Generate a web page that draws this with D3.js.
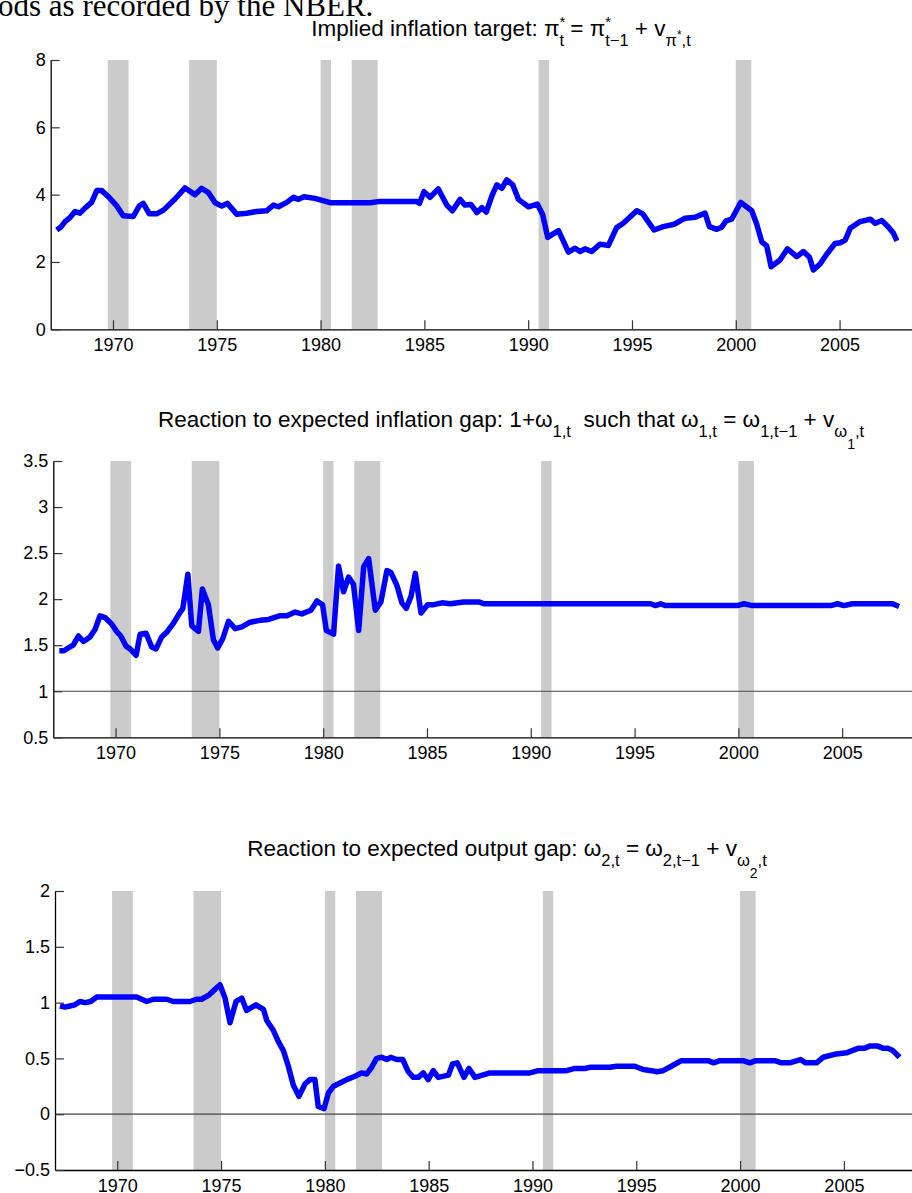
<!DOCTYPE html>
<html>
<head>
<meta charset="utf-8">
<script src="https://cdn.jsdelivr.net/npm/d3@7"></script>
<style>
  body { margin: 0; background: #fff; }
  svg { display: block; font-family: "Liberation Sans", Arial, sans-serif; }
  text { white-space: pre; }
</style>
</head>
<body>
<div id="chart"></div>
<script>
// NBER recession bands (as drawn)
const recStart = [1969.75, 1973.67, 1980.0, 1981.5, 1990.5, 2000.0];
const recEnd = [1970.75, 1975.0, 1980.5, 1982.75, 1991.0, 2000.75];

const xTicks = [1970, 1975, 1980, 1985, 1990, 1995, 2000, 2005];

// implied inflation target
const targetData = [
  [1967.29, 2.95], [1967.48, 3.03], [1967.69, 3.2], [1967.93, 3.32], [1968.17, 3.5], [1968.41, 3.45],
  [1968.65, 3.6], [1968.97, 3.77], [1969.22, 4.12], [1969.46, 4.12], [1969.78, 3.94], [1970.15, 3.69],
  [1970.5, 3.37], [1970.98, 3.35], [1971.27, 3.67], [1971.46, 3.74], [1971.75, 3.43], [1972.1, 3.43],
  [1972.43, 3.54], [1972.99, 3.87], [1973.47, 4.2], [1973.95, 4.0], [1974.27, 4.19], [1974.6, 4.06],
  [1974.92, 3.76], [1975.24, 3.66], [1975.51, 3.74], [1975.96, 3.42], [1976.44, 3.45], [1976.92, 3.5],
  [1977.4, 3.52], [1977.73, 3.69], [1977.97, 3.64], [1978.37, 3.77], [1978.69, 3.92], [1978.93, 3.86],
  [1979.2, 3.94], [1979.73, 3.89], [1980.46, 3.76], [1981.42, 3.76], [1982.38, 3.76], [1982.86, 3.8],
  [1984.63, 3.8], [1984.76, 3.74], [1984.98, 4.09], [1985.27, 3.92], [1985.67, 4.17], [1986.08, 3.69],
  [1986.35, 3.52], [1986.72, 3.86], [1986.96, 3.69], [1987.24, 3.71], [1987.53, 3.47], [1987.77, 3.61],
  [1987.98, 3.48], [1988.25, 3.96], [1988.49, 4.29], [1988.73, 4.19], [1988.97, 4.44], [1989.26, 4.29],
  [1989.53, 3.86], [1990.01, 3.64], [1990.44, 3.72], [1990.7, 3.4], [1990.94, 2.73], [1991.46, 2.93],
  [1991.94, 2.29], [1992.26, 2.41], [1992.5, 2.31], [1992.74, 2.39], [1993.06, 2.31], [1993.46, 2.53],
  [1993.86, 2.49], [1994.26, 3.02], [1994.58, 3.15], [1995.23, 3.52], [1995.52, 3.43], [1996.06, 2.95],
  [1996.51, 3.05], [1997.03, 3.12], [1997.56, 3.3], [1998.04, 3.33], [1998.52, 3.45], [1998.73, 3.05],
  [1999.08, 2.97], [1999.32, 3.03], [1999.53, 3.22], [1999.8, 3.27], [2000.24, 3.77], [2000.77, 3.52],
  [2001.01, 3.12], [2001.25, 2.6], [2001.49, 2.48], [2001.7, 1.86], [2002.13, 2.06], [2002.49, 2.39],
  [2002.94, 2.16], [2003.26, 2.31], [2003.55, 2.14], [2003.74, 1.76], [2004.06, 1.94], [2004.38, 2.23],
  [2004.78, 2.55], [2005.03, 2.57], [2005.27, 2.65], [2005.51, 3.0], [2005.99, 3.2], [2006.48, 3.27],
  [2006.72, 3.15], [2007.04, 3.23], [2007.36, 3.03], [2007.6, 2.85], [2007.76, 2.63]
];

// reaction to expected inflation gap, 1 + omega1
const inflData = [
  [1967.29, 1.44], [1967.51, 1.44], [1967.72, 1.47], [1967.96, 1.5], [1968.21, 1.6], [1968.45, 1.54],
  [1968.77, 1.59], [1969.01, 1.67], [1969.25, 1.82], [1969.49, 1.8], [1969.81, 1.73], [1970.05, 1.65],
  [1970.25, 1.6], [1970.5, 1.49], [1970.7, 1.46], [1970.99, 1.39], [1971.18, 1.62], [1971.47, 1.63],
  [1971.74, 1.48], [1971.95, 1.46], [1972.22, 1.59], [1972.46, 1.64], [1972.79, 1.74], [1973.03, 1.83],
  [1973.24, 1.9], [1973.48, 2.27], [1973.67, 1.71], [1973.99, 1.65], [1974.18, 2.11], [1974.47, 1.94],
  [1974.71, 1.56], [1974.92, 1.47], [1975.16, 1.57], [1975.44, 1.76], [1975.76, 1.68], [1976.08, 1.7],
  [1976.48, 1.75], [1976.96, 1.77], [1977.37, 1.78], [1977.93, 1.82], [1978.25, 1.82], [1978.65, 1.86],
  [1978.97, 1.84], [1979.41, 1.88], [1979.7, 1.98], [1979.97, 1.94], [1980.15, 1.66], [1980.5, 1.62],
  [1980.74, 2.36], [1980.98, 2.08], [1981.22, 2.24], [1981.46, 2.16], [1981.71, 1.66], [1981.95, 2.35],
  [1982.19, 2.44], [1982.51, 1.88], [1982.78, 1.97], [1983.07, 2.31], [1983.26, 2.29], [1983.55, 2.15],
  [1983.79, 1.96], [1984.0, 1.9], [1984.23, 2.03], [1984.44, 2.28], [1984.71, 1.85], [1985.03, 1.94],
  [1985.32, 1.94], [1985.72, 1.96], [1986.13, 1.95], [1986.77, 1.97], [1987.5, 1.97], [1987.74, 1.95],
  [1995.77, 1.95], [1996.01, 1.93], [1996.25, 1.95], [1996.49, 1.93], [1999.95, 1.93], [2000.27, 1.95],
  [2000.67, 1.93], [2004.45, 1.93], [2004.77, 1.95], [2005.09, 1.93], [2005.49, 1.95], [2007.42, 1.95],
  [2007.74, 1.92]
];

// reaction to expected output gap, omega2
const outputData = [
  [1967.24, 0.97], [1967.48, 0.96], [1967.72, 0.97], [1967.96, 0.98], [1968.2, 1.01], [1968.45, 1.0],
  [1968.72, 1.01], [1969.01, 1.05], [1970.93, 1.05], [1971.42, 1.01], [1971.74, 1.03], [1972.38, 1.03],
  [1972.7, 1.01], [1973.5, 1.01], [1973.82, 1.03], [1974.06, 1.03], [1974.43, 1.07], [1974.71, 1.12],
  [1974.95, 1.16], [1975.19, 1.04], [1975.43, 0.82], [1975.72, 1.01], [1976.0, 1.04], [1976.23, 0.93],
  [1976.68, 0.98], [1977.04, 0.94], [1977.2, 0.84], [1977.52, 0.75], [1977.76, 0.65], [1978.0, 0.57],
  [1978.24, 0.43], [1978.48, 0.26], [1978.75, 0.16], [1979.04, 0.27], [1979.28, 0.31], [1979.52, 0.31],
  [1979.68, 0.07], [1979.96, 0.05], [1980.17, 0.19], [1980.41, 0.25], [1980.73, 0.28], [1981.05, 0.31],
  [1981.45, 0.34], [1981.77, 0.37], [1982.01, 0.36], [1982.25, 0.42], [1982.49, 0.5], [1982.74, 0.51],
  [1982.98, 0.49], [1983.17, 0.51], [1983.46, 0.49], [1983.75, 0.49], [1984.02, 0.38], [1984.26, 0.33],
  [1984.5, 0.33], [1984.74, 0.37], [1984.98, 0.31], [1985.22, 0.39], [1985.46, 0.33], [1985.95, 0.35],
  [1986.15, 0.45], [1986.38, 0.46], [1986.7, 0.33], [1986.94, 0.41], [1987.23, 0.33], [1987.95, 0.37],
  [1989.87, 0.37], [1990.28, 0.39], [1991.64, 0.39], [1992.04, 0.41], [1992.52, 0.41], [1992.76, 0.42],
  [1993.73, 0.42], [1994.05, 0.43], [1994.93, 0.43], [1995.33, 0.4], [1995.73, 0.39], [1996.0, 0.38],
  [1996.29, 0.39], [1996.69, 0.43], [1997.17, 0.48], [1998.46, 0.48], [1998.73, 0.46], [1999.02, 0.48],
  [2000.14, 0.48], [2000.47, 0.46], [2000.76, 0.48], [2001.67, 0.48], [2001.99, 0.46], [2002.39, 0.46],
  [2002.91, 0.49], [2003.16, 0.46], [2003.68, 0.46], [2004.0, 0.51], [2004.64, 0.54], [2005.12, 0.55],
  [2005.68, 0.59], [2006.0, 0.59], [2006.24, 0.61], [2006.64, 0.61], [2006.88, 0.59], [2007.12, 0.59],
  [2007.36, 0.57], [2007.68, 0.51]
];

const w = 912;
const h = 1193;
const xDomain = [1967, 2008.5];
const pxPerYear = 20.76;

const SUB = { fs: 16.5, dy: 10 };

const panels = [
  {
    data: targetData, left: 50.7, top: 60, bottom: 329.3,
    yDomain: [0, 8], yTicks: [0, 2, 4, 6, 8], ref: null, titleY: 36, titleX: 501,
    title: [
      { s: 'Implied inflation target: π' }, { s: '*', fs: 15, dy: -9, stack: true }, { s: 't', ...SUB },
      { s: ' = π' }, { s: '*', fs: 15, dy: -9, stack: true }, { s: 't−1', ...SUB },
      { s: ' + v' }, { s: 'π', ...SUB }, { s: '*', fs: 12, dy: 3 }, { s: ',t', ...SUB }
    ]
  },
  {
    data: inflData, left: 53.3, top: 461, bottom: 737.3,
    yDomain: [0.5, 3.5], yTicks: [0.5, 1, 1.5, 2, 2.5, 3, 3.5], ref: 1, titleY: 427, titleX: 511,
    title: [
      { s: 'Reaction to expected inflation gap: 1+ω' }, { s: '1,t', ...SUB },
      { s: '  such that ω' }, { s: '1,t', ...SUB }, { s: ' = ω' }, { s: '1,t−1', ...SUB },
      { s: ' + v' }, { s: 'ω', ...SUB }, { s: '1', fs: 14, dy: 22 }, { s: ',t', ...SUB }
    ]
  },
  {
    data: outputData, left: 55, top: 891, bottom: 1170,
    yDomain: [-0.5, 2], yTicks: [-0.5, 0, 0.5, 1, 1.5, 2], ref: 0, titleY: 856, titleX: 507,
    title: [
      { s: 'Reaction to expected output gap: ω' }, { s: '2,t', ...SUB },
      { s: ' = ω' }, { s: '2,t−1', ...SUB },
      { s: ' + v' }, { s: 'ω', ...SUB }, { s: '2', fs: 14, dy: 22 }, { s: ',t', ...SUB }
    ]
  }
];

const svg = d3.select('#chart').append('svg')
  .attr('width', w)
  .attr('height', h);

svg.append('rect').attr('width', w).attr('height', h).attr('fill', '#fff');

// cut-off caption line from the page above the figure
svg.append('text')
  .attr('x', -2)
  .attr('y', 16)
  .attr('font-family', '"Liberation Serif", "Times New Roman", serif')
  .attr('font-size', 31)
  .attr('fill', '#000')
  .text('ods as recorded by the NBER.');

function drawTitle(cx, y, tokens) {
  const g = svg.append('g');
  let x = 0;
  tokens.forEach(function (tk) {
    const t = g.append('text')
      .attr('x', x)
      .attr('y', y + (tk.dy || 0))
      .attr('font-size', tk.fs || 22.5)
      .attr('fill', '#000')
      .text(tk.s);
    const tw = t.node().getComputedTextLength();
    if (!tk.stack) x += tw;
  });
  g.attr('transform', 'translate(' + (cx - x / 2) + ',0)');
}

const fmt = d3.format('~g');

panels.forEach(function (p) {
  const xScale = d3.scaleLinear()
    .domain(xDomain)
    .range([p.left, p.left + (xDomain[1] - xDomain[0]) * pxPerYear]);
  const yScale = d3.scaleLinear()
    .domain(p.yDomain)
    .range([p.bottom, p.top]);

  const g = svg.append('g');

  // recession bands
  g.selectAll('rect.rec')
    .data(recStart)
    .enter()
    .append('rect')
    .attr('class', 'rec')
    .attr('x', d => xScale(d))
    .attr('width', (d, i) => xScale(recEnd[i]) - xScale(d))
    .attr('y', p.top)
    .attr('height', p.bottom - p.top)
    .attr('fill', '#cbcbcb');

  if (p.ref !== null) {
    g.append('line')
      .attr('x1', p.left).attr('x2', w)
      .attr('y1', yScale(p.ref)).attr('y2', yScale(p.ref))
      .attr('stroke', '#444')
      .attr('stroke-width', 1.2);
  }

  const xAxis = d3.axisBottom(xScale)
    .tickValues(xTicks)
    .tickFormat(d3.format('d'))
    .tickSizeInner(-9)
    .tickSizeOuter(0)
    .tickPadding(9);

  const yAxis = d3.axisLeft(yScale)
    .tickValues(p.yTicks)
    .tickFormat(fmt)
    .tickSizeInner(-9)
    .tickSizeOuter(0)
    .tickPadding(5);

  const gx = g.append('g')
    .attr('transform', 'translate(0,' + p.bottom + ')')
    .call(xAxis);
  const gy = g.append('g')
    .attr('transform', 'translate(' + p.left + ',0)')
    .call(yAxis);

  [gx, gy].forEach(function (a) {
    a.select('.domain').attr('stroke', '#000').attr('stroke-width', 1.3);
    a.selectAll('.tick line').attr('stroke', '#333').attr('stroke-width', 1.2);
    a.selectAll('.tick text')
      .attr('font-size', 18)
      .attr('font-family', '"Liberation Sans", Arial, sans-serif')
      .attr('fill', '#000');
  });

  const line = d3.line()
    .x(d => xScale(d[0]))
    .y(d => yScale(d[1]));

  g.append('path')
    .datum(p.data)
    .attr('d', line)
    .attr('fill', 'none')
    .attr('stroke', '#0000ff')
    .attr('stroke-width', 5.5)
    .attr('stroke-linejoin', 'round');

  drawTitle(p.titleX, p.titleY, p.title);
});
</script>
</body>
</html>
